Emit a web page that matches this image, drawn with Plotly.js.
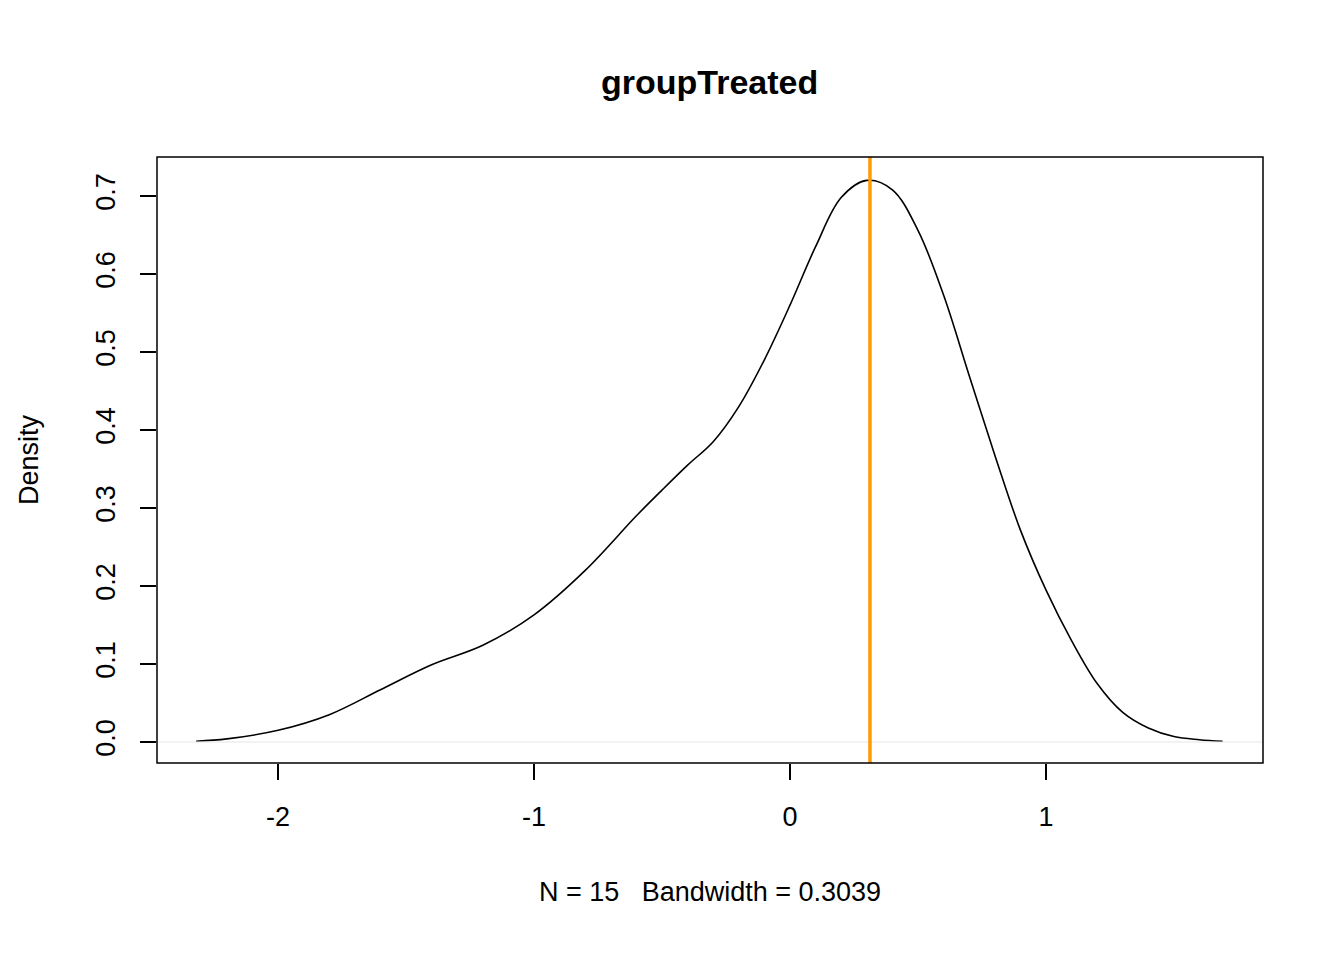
<!DOCTYPE html>
<html>
<head>
<meta charset="utf-8">
<script src="https://cdn.plot.ly/plotly-3.0.1.min.js"></script>
<style>body{margin:0;background:#fff}#plot{width:1344px;height:960px}</style>
</head>
<body>
<div id="plot"></div>
<script>
// density estimate
const densX = [-2.32, -2.2, -2.0, -1.8, -1.6, -1.4, -1.2, -1.0, -0.8, -0.6, -0.5, -0.4, -0.3, -0.2, -0.1, 0.0, 0.1, 0.2, 0.3, 0.4, 0.5, 0.6, 0.7, 0.8, 0.9, 1.0, 1.1, 1.2, 1.3, 1.4, 1.5, 1.6, 1.69];
const densY = [0.001, 0.004, 0.015, 0.035, 0.067, 0.099, 0.124, 0.163, 0.22, 0.29, 0.323, 0.355, 0.385, 0.43, 0.49, 0.56, 0.635, 0.698, 0.72, 0.708, 0.656, 0.573, 0.47, 0.368, 0.272, 0.195, 0.13, 0.075, 0.038, 0.018, 0.007, 0.003, 0.001];
const meanLine = 0.3125;
const xTicks = [-2, -1, 0, 1];
const yTicks = [0, 0.1, 0.2, 0.3, 0.4, 0.5, 0.6, 0.7];
const yTickText = ['0.0', '0.1', '0.2', '0.3', '0.4', '0.5', '0.6', '0.7'];

const font = {family: 'Liberation Sans, Arial, sans-serif', color: '#000', size: 27};

const traces = [
    {x: densX, y: densY, mode: 'lines', line: {color: '#000', width: 1.6, shape: 'spline', smoothing: 1}, hoverinfo: 'skip'}
];

const layout = {
    width: 1344, height: 960,
    paper_bgcolor: '#fff', plot_bgcolor: '#fff',
    font: font,
    showlegend: false,
    margin: {l: 157, r: 81, t: 157, b: 197},
    title: {text: '<b>groupTreated</b>', font: {size: 34, family: font.family}, x: 0.528, xanchor: 'center', y: 0.915, yanchor: 'middle'},
    xaxis: {
        range: [-2.473, 1.848], tickvals: xTicks, ticktext: xTicks.map(String),
        showgrid: false, zeroline: false, showline: false,
        ticks: 'outside', ticklen: 16, tickwidth: 1.5, tickcolor: '#000', ticklabelstandoff: 14,
        title: {text: 'N = 15   Bandwidth = 0.3039', font: {size: 27}, standoff: 50}
    },
    yaxis: {
        range: [-0.0269, 0.75], tickvals: yTicks, ticktext: yTickText, tickangle: -90,
        showgrid: false, zeroline: false, showline: false,
        ticks: 'outside', ticklen: 16, tickwidth: 1.5, tickcolor: '#000', ticklabelstandoff: 14,
        title: {text: 'Density', font: {size: 27}, standoff: 44}
    },
    shapes: [
        {type: 'line', xref: 'paper', x0: 0, x1: 1, yref: 'y', y0: 0, y1: 0, line: {color: '#e6e6e6', width: 1}},
        {type: 'line', xref: 'x', x0: meanLine, x1: meanLine, yref: 'paper', y0: 0, y1: 1, line: {color: '#ff9a00', width: 3.5}},
        {type: 'rect', xref: 'paper', yref: 'paper', x0: 0, x1: 1, y0: 0, y1: 1, line: {color: '#000', width: 1.5}}
    ]
};

Plotly.newPlot('plot', traces, layout, {displayModeBar: false, staticPlot: true});
</script>
</body>
</html>
